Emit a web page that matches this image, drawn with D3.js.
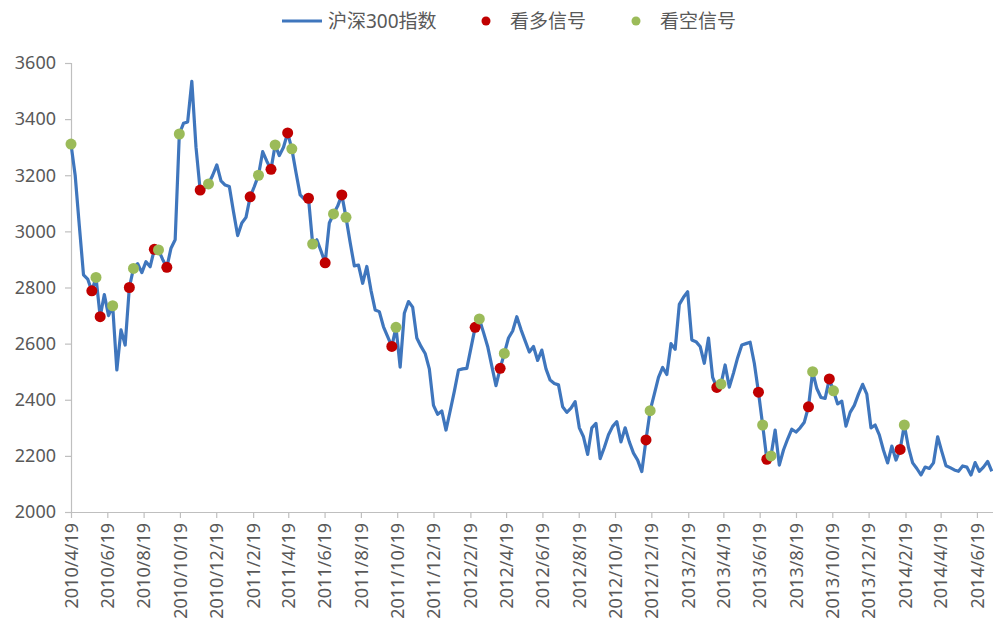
<!DOCTYPE html>
<html>
<head>
<meta charset="utf-8">
<script src="https://cdn.jsdelivr.net/npm/d3@7"></script>
<style>
  body { margin: 0; background: #fff; }
  svg text { font-family: "Noto Sans", "Noto Sans CJK SC", sans-serif; fill: #595959; }
</style>
</head>
<body>
<script>
// weekly close of the CSI 300, first week is 2010/4/19 (Monday)
var startDay = "2010/4/19";
var indexValues = [
  3311, 3200, 3020, 2845, 2830, 2788, 2836, 2696, 2775, 2700,
  2735, 2506, 2649, 2595, 2800, 2868, 2885, 2853, 2892, 2874,
  2936, 2934, 2900, 2872, 2940, 2970, 3347, 3385, 3390, 3535,
  3300, 3147, 3155, 3169, 3200, 3237, 3180, 3165, 3160, 3070,
  2985, 3030, 3050, 3123, 3160, 3200, 3284, 3250, 3221, 3308,
  3270, 3300, 3351, 3294, 3210, 3130, 3115, 3118, 2955, 2970,
  2930, 2888, 3030, 3062, 3090, 3130, 3050, 2960, 2877, 2880,
  2815, 2875, 2790, 2720, 2714, 2660, 2625, 2590, 2658, 2516,
  2708, 2750, 2730, 2620, 2590, 2565, 2510, 2380, 2348, 2360,
  2292, 2360, 2430, 2506, 2510, 2512, 2585, 2658, 2688, 2640,
  2590, 2520, 2450, 2512, 2565, 2620, 2645, 2696, 2650, 2610,
  2570, 2590, 2540, 2577, 2510, 2470, 2458, 2453, 2375, 2355,
  2370, 2393, 2300, 2268, 2205, 2300, 2316, 2190, 2230, 2275,
  2305, 2322, 2250, 2300, 2250, 2210, 2185, 2144, 2257, 2361,
  2420, 2480, 2515, 2490, 2600, 2580, 2740, 2765, 2785, 2613,
  2607, 2590, 2530, 2620, 2480, 2444, 2456, 2524, 2445, 2495,
  2550, 2595, 2600, 2605, 2530, 2427, 2310, 2188, 2200, 2292,
  2167, 2221, 2260, 2295, 2285, 2300, 2320, 2375, 2500, 2440,
  2408, 2405, 2474, 2432, 2385, 2395, 2306, 2355, 2380, 2420,
  2455, 2420, 2300, 2310, 2275, 2220, 2175, 2235, 2185, 2223,
  2310, 2230, 2175, 2155, 2132, 2160, 2155, 2175, 2268, 2215,
  2165, 2158, 2150, 2145, 2164, 2160, 2132, 2176, 2145, 2160,
  2180, 2145
];

// week numbers where a signal was given
var bullWeeks = [5, 7, 14, 20, 23, 31, 43, 48, 52, 57, 61, 65, 77, 97, 103, 138, 155, 165, 167, 177, 182, 199];
var bearWeeks = [0, 6, 10, 15, 21, 26, 33, 45, 49, 53, 58, 63, 66, 78, 98, 104, 139, 156, 166, 168, 178, 183, 200];

var xTicks = ["2010/4/19", "2010/6/19", "2010/8/19", "2010/10/19", "2010/12/19",
  "2011/2/19", "2011/4/19", "2011/6/19", "2011/8/19", "2011/10/19", "2011/12/19",
  "2012/2/19", "2012/4/19", "2012/6/19", "2012/8/19", "2012/10/19", "2012/12/19",
  "2013/2/19", "2013/4/19", "2013/6/19", "2013/8/19", "2013/10/19", "2013/12/19",
  "2014/2/19", "2014/4/19", "2014/6/19"];
var yTicks = [2000, 2200, 2400, 2600, 2800, 3000, 3200, 3400, 3600];

var seriesName = "沪深300指数";
var bullName = "看多信号";
var bearName = "看空信号";

var width = 993;
var height = 622;
var parse = d3.timeParse("%Y/%m/%d");
var start = parse(startDay);

var data = indexValues.map(function(v, i) {
  return { date: d3.timeDay.offset(start, i * 7), value: v };
});

var svg = d3.select("body").append("svg")
  .attr("width", width)
  .attr("height", height);

var xScale = d3.scaleTime()
  .domain([start, parse("2014/7/16")])
  .range([71, 993]);

var yScale = d3.scaleLinear()
  .domain([2000, 3600])
  .range([512, 63]);

// y axis
var yAxis = d3.axisLeft(yScale).tickValues(yTicks).tickFormat(d3.format("d")).tickSize(6).tickPadding(9);
var gy = svg.append("g").attr("transform", "translate(71,0)").call(yAxis);
gy.selectAll("path, line").attr("stroke", "#bfbfbf").attr("stroke-width", 1.2);
gy.selectAll("text").style("font-size", "18px");

// x axis, labels turned upright
var xAxis = d3.axisBottom(xScale)
  .tickValues(xTicks.map(parse))
  .tickFormat(function(d) { return d3.timeFormat("%Y/%-m/%-d")(d); })
  .tickSize(6)
  .tickSizeOuter(0);
var gx = svg.append("g").attr("transform", "translate(0,512)").call(xAxis);
gx.selectAll("path, line").attr("stroke", "#bfbfbf").attr("stroke-width", 1.2);
gx.selectAll("text")
  .style("font-size", "18px")
  .attr("text-anchor", "end")
  .attr("transform", "rotate(-90)")
  .attr("x", -11)
  .attr("y", 0)
  .attr("dy", "0.35em");

// index line
var line = d3.line()
  .x(function(d) { return xScale(d.date); })
  .y(function(d) { return yScale(d.value); });

svg.append("path")
  .datum(data)
  .attr("fill", "none")
  .attr("stroke", "#3f76bd")
  .attr("stroke-width", 3.2)
  .attr("stroke-linejoin", "round")
  .attr("d", line);

// signal dots
svg.append("g")
  .selectAll("circle")
  .data(bullWeeks.map(function(w) { return data[w]; }))
  .join("circle")
  .attr("cx", function(d) { return xScale(d.date); })
  .attr("cy", function(d) { return yScale(d.value); })
  .attr("r", 5.5)
  .attr("fill", "#c00000");

svg.append("g")
  .selectAll("circle")
  .data(bearWeeks.map(function(w) { return data[w]; }))
  .join("circle")
  .attr("cx", function(d) { return xScale(d.date); })
  .attr("cy", function(d) { return yScale(d.value); })
  .attr("r", 5.5)
  .attr("fill", "#9bbb59");

// legend
var legend = svg.append("g").style("font-size", "19px");
legend.append("line")
  .attr("x1", 282).attr("x2", 322).attr("y1", 21).attr("y2", 21)
  .attr("stroke", "#3f76bd").attr("stroke-width", 3);
legend.append("text").attr("x", 328).attr("y", 28).text(seriesName);
legend.append("circle").attr("cx", 486).attr("cy", 21).attr("r", 4.5).attr("fill", "#c00000");
legend.append("text").attr("x", 510).attr("y", 28).text(bullName);
legend.append("circle").attr("cx", 636).attr("cy", 21).attr("r", 4.5).attr("fill", "#9bbb59");
legend.append("text").attr("x", 660).attr("y", 28).text(bearName);
</script>
</body>
</html>
